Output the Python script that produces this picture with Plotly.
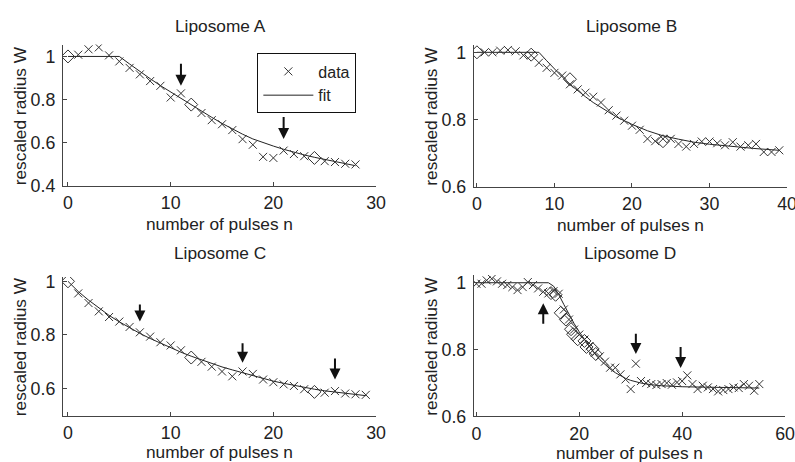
import plotly.graph_objects as go

# ---------------- data ----------------
# Liposome A
a_n = [1, 2, 3, 4, 5, 6, 7, 8, 9, 10, 11, 13, 14, 15, 16, 17, 18, 19, 20, 21, 22, 23, 25, 26, 27, 28]
a_w = [1.008, 1.033, 1.042, 1.005, 0.977, 0.947, 0.917, 0.886, 0.864, 0.81, 0.829,
       0.738, 0.705, 0.686, 0.659, 0.617, 0.591, 0.535, 0.530, 0.564, 0.548, 0.538,
       0.515, 0.511, 0.503, 0.500]
a_dn = [0, 12, 24]
a_dw = [1.0, 0.777, 0.530]
a_fn = [0, 5, 6, 7, 8, 9, 10, 11, 12, 13, 14, 15, 16, 17, 18, 19, 20, 21, 22, 23, 24, 25, 26, 27, 28]
a_fw = [1, 1, 0.965, 0.93, 0.897, 0.865, 0.835, 0.805, 0.775, 0.745, 0.718, 0.69, 0.664,
        0.64, 0.618, 0.6, 0.585, 0.57, 0.556, 0.544, 0.533, 0.523, 0.513, 0.503, 0.494]
a_arrow_n = [11, 21]
a_arrow_tail = [0.973, 0.727]
a_arrow_tip = [0.864, 0.618]

# Liposome B
b_n = list(range(1, 40))
b_w = [1.0, 1.0, 1.005, 1.007, 1.003, 0.991, 0.991, 0.969, 0.954, 0.939, 0.931, 0.905,
       0.89, 0.88, 0.868, 0.851, 0.828, 0.812, 0.797, 0.782, 0.77, 0.743, 0.736, 0.743,
       0.743, 0.728, 0.72, 0.728, 0.735, 0.735, 0.73, 0.724, 0.733, 0.72, 0.724, 0.728,
       0.704, 0.704, 0.709]
b_dn = [0, 7, 12, 24]
b_dw = [1.0, 0.993, 0.92, 0.736]
b_fn = [0, 8, 9, 10, 11, 12, 13, 14, 15, 16, 17, 18, 19, 20, 22, 24, 26, 28, 30, 32, 34, 36, 39]
b_fw = [1, 1, 0.975, 0.95, 0.927, 0.905, 0.886, 0.868, 0.851, 0.836, 0.822, 0.808, 0.797,
        0.786, 0.767, 0.752, 0.742, 0.733, 0.727, 0.722, 0.718, 0.714, 0.709]

# Liposome C
c_n = [1, 2, 3, 4, 5, 6, 7, 8, 9, 10, 11, 13, 14, 15, 16, 17, 18, 19, 20, 21, 22, 23, 25, 26, 27, 28, 29]
c_w = [0.955, 0.919, 0.888, 0.867, 0.85, 0.83, 0.81, 0.794, 0.773, 0.761, 0.743, 0.70,
       0.682, 0.664, 0.646, 0.664, 0.655, 0.634, 0.624, 0.616, 0.61, 0.598, 0.585, 0.591,
       0.582, 0.579, 0.577]
c_dn = [0, 12, 24]
c_dw = [1.0, 0.716, 0.588]
c_fn = list(range(0, 30))
c_fw = [1.0, 0.962, 0.93, 0.9, 0.873, 0.849, 0.827, 0.806, 0.787, 0.769, 0.752, 0.736,
        0.721, 0.707, 0.694, 0.681, 0.67, 0.659, 0.648, 0.638, 0.628, 0.62, 0.612, 0.605,
        0.598, 0.592, 0.587, 0.582, 0.578, 0.574]
c_arrow_n = [7, 17, 26]
c_arrow_tail = [0.919, 0.775, 0.718]
c_arrow_tip = [0.85, 0.697, 0.634]

# Liposome D
d_n = list(range(0, 56))
d_w = [0.997, 0.997, 1.007, 1.012, 1.004, 0.997, 0.993, 0.987, 0.978, 0.987, 1.002, 0.993,
       0.983, 0.973, 0.968, 0.975, 0.967, 0.92, 0.89, 0.86, 0.845, 0.83, 0.81, 0.79, 0.78,
       0.764, 0.746, 0.746, 0.726, 0.711, 0.682, 0.758, 0.706, 0.7, 0.697, 0.694, 0.697,
       0.7, 0.695, 0.702, 0.706, 0.723, 0.697, 0.682, 0.692, 0.687, 0.682, 0.675, 0.679,
       0.682, 0.687, 0.685, 0.697, 0.692, 0.677, 0.697]
d_dn = [14.5, 15.4, 16.4, 17.4, 18.4, 18.8, 19.7, 21, 21.4, 22.6, 23.2]
d_dw = [0.969, 0.964, 0.91, 0.89, 0.861, 0.846, 0.831, 0.826, 0.808, 0.802, 0.787]
d_fn = [0, 14, 15, 16, 17, 18, 19, 20, 21, 22, 23, 24, 25, 26, 27, 28, 29, 30, 32, 34, 36, 40, 45, 50, 55]
d_fw = [1, 1, 0.99, 0.965, 0.935, 0.905, 0.878, 0.853, 0.83, 0.808, 0.788, 0.77, 0.755,
        0.742, 0.731, 0.722, 0.714, 0.708, 0.700, 0.695, 0.692, 0.689, 0.687, 0.686, 0.685]
d_arrow_n = [13, 31, 39.7]
d_arrow_tail = [0.873, 0.852, 0.812]
d_arrow_tip = [0.939, 0.787, 0.745]

titles = ["Liposome A", "Liposome B", "Liposome C", "Liposome D"]
xlabel = "number of pulses n"
ylabel = "rescaled radius W"

# ---------------- figure ----------------
REF_W, REF_H = 795, 462
W, H = 805, 472          # figure size; the plotting area below is 795x462
FONT = "Liberation Sans, Arial, Helvetica, sans-serif"
INK = "#222222"
TXT = 17.3
TICK = 17.8


def px(x):          # reference-picture pixel -> paper fraction
    return x / REF_W


def py(y):
    return 1 - y / REF_H


panels = [
    dict(n=a_n, w=a_w, dn=a_dn, dw=a_dw, fn=a_fn, fw=a_fw,
         xd=[61, 375], yd=[40, 183], xr=[-0.5, 30], yr=[0.4, 1.055], xl_y=221, t_y=21,
         xt=[0, 10, 20, 30], yt=[0.4, 0.6, 0.8, 1.0], ytt=["0.4", "0.6", "0.8", "1"],
         arrows=(a_arrow_n, a_arrow_tail, a_arrow_tip)),
    dict(n=b_n, w=b_w, dn=b_dn, dw=b_dw, fn=b_fn, fw=b_fw,
         xd=[473, 787], yd=[40, 184], xr=[-0.4, 40], yr=[0.6, 1.023], xl_y=222, t_y=21,
         xt=[0, 10, 20, 30, 40], yt=[0.6, 0.8, 1.0], ytt=["0.6", "0.8", "1"],
         arrows=None),
    dict(n=c_n, w=c_w, dn=c_dn, dw=c_dw, fn=c_fn, fw=c_fw,
         xd=[61, 375], yd=[275, 415], xr=[-0.5, 30], yr=[0.5, 1.016], xl_y=452, t_y=251,
         xt=[0, 10, 20, 30], yt=[0.6, 0.8, 1.0], ytt=["0.6", "0.8", "1"],
         arrows=(c_arrow_n, c_arrow_tail, c_arrow_tip)),
    dict(n=d_n, w=d_w, dn=d_dn, dw=d_dw, fn=d_fn, fw=d_fw,
         xd=[473, 785], yd=[273, 416], xr=[-0.5, 60], yr=[0.6, 1.023], xl_y=453, t_y=251,
         xt=[0, 20, 40, 60], yt=[0.6, 0.8, 1.0], ytt=["0.6", "0.8", "1"],
         arrows=(d_arrow_n, d_arrow_tail, d_arrow_tip)),
]

fig = go.Figure()
annotations = []
layout_axes = {}

for i, p in enumerate(panels):
    k = "" if i == 0 else str(i + 1)
    xa, ya = "x" + k, "y" + k
    fig.add_trace(go.Scatter(
        x=p["fn"], y=p["fw"], mode="lines", xaxis=xa, yaxis=ya,
        line=dict(color=INK, width=1), name="fit", showlegend=(i == 0), legendrank=2))
    fig.add_trace(go.Scatter(
        x=p["n"], y=p["w"], mode="markers", xaxis=xa, yaxis=ya,
        marker=dict(symbol="x-thin-open", size=8, color="#333333",
                    line=dict(color="#333333", width=1)),
        name="data", showlegend=(i == 0), legendrank=1))
    fig.add_trace(go.Scatter(
        x=p["dn"], y=p["dw"], mode="markers", xaxis=xa, yaxis=ya,
        marker=dict(symbol="diamond-open", size=10, color="#333333",
                    line=dict(color="#333333", width=1)),
        showlegend=False))

    axis_common = dict(showline=True, linecolor="#444444", linewidth=1, mirror=False,
                       ticks="inside", ticklen=4, tickcolor="#444444", showgrid=False,
                       zeroline=False, tickfont=dict(family=FONT, size=TICK, color=INK))
    layout_axes["xaxis" + k] = dict(
        domain=[px(p["xd"][0]), px(p["xd"][1])], range=p["xr"], anchor=ya,
        tickvals=p["xt"], ticktext=[str(t) for t in p["xt"]], ticklabelstandoff=1,
        **axis_common)
    layout_axes["yaxis" + k] = dict(
        domain=[py(p["yd"][1]), py(p["yd"][0])], range=p["yr"], anchor=xa,
        tickvals=p["yt"], ticktext=p["ytt"], ticklabelstandoff=3, **axis_common)

    cx = (p["xd"][0] + p["xd"][1]) / 2
    annotations.append(dict(text=titles[i], xref="paper", yref="paper",
                            x=px(cx + 1), y=py(p["t_y"]), xanchor="center",
                            yanchor="middle", showarrow=False,
                            font=dict(family=FONT, size=TXT, color=INK)))
    annotations.append(dict(text=xlabel, xref="paper", yref="paper",
                            x=px(cx), y=py(p["xl_y"]), xanchor="center",
                            yanchor="middle", showarrow=False, borderpad=0,
                            font=dict(family=FONT, size=TXT, color=INK)))
    annotations.append(dict(text=ylabel, xref="paper", yref="paper",
                            x=px(p["xd"][0] - 43), y=py((p["yd"][0] + p["yd"][1]) / 2),
                            xanchor="center", yanchor="middle", textangle=-90,
                            showarrow=False, font=dict(family=FONT, size=TXT, color=INK)))
    if p["arrows"]:
        for an, tail, tip in zip(*p["arrows"]):
            annotations.append(dict(x=an, y=tip, ax=an, ay=tail, xref=xa, yref=ya,
                                    axref=xa, ayref=ya, showarrow=True, arrowhead=2,
                                    arrowsize=1.1, arrowwidth=2, arrowcolor="#111111",
                                    text=""))

fig.update_layout(
    width=W, height=H, margin=dict(l=0, r=W - REF_W, t=0, b=H - REF_H),
    paper_bgcolor="white", plot_bgcolor="white",
    annotations=annotations,
    legend=dict(x=px(256), y=py(49), xanchor="left", yanchor="top",
                bordercolor="#111111", borderwidth=1, bgcolor="white",
                font=dict(family=FONT, size=16, color=INK),
                itemwidth=50, tracegroupgap=0),
    **layout_axes,
)

fig.write_html("out.html", config={"displayModeBar": False},
               post_script="document.body.style.margin='0';document.body.style.overflow='hidden';")
